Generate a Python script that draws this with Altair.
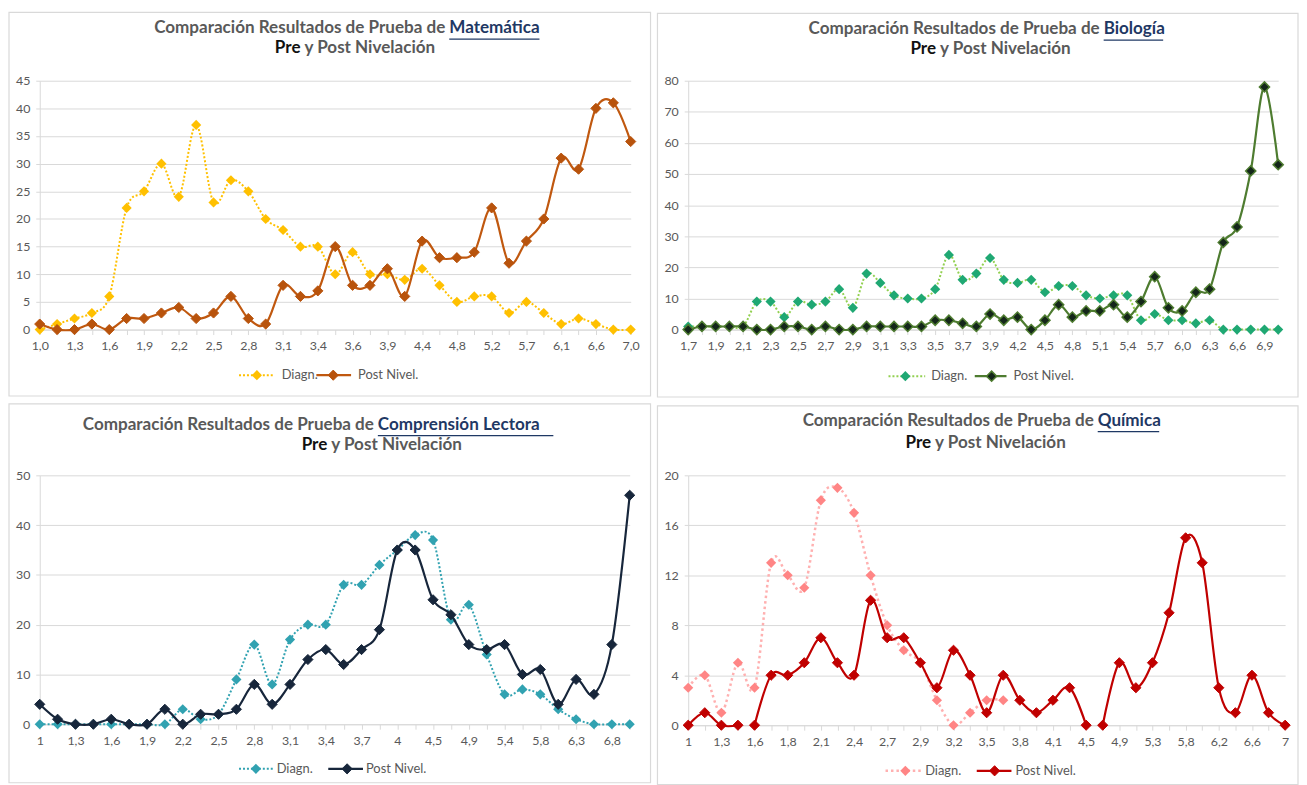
import json
import altair as alt
import pandas as pd

FONT = "Lato"
GRAY = "#595959"
AXC = "#D9D9D9"

# ---------------- data ----------------
mat_cats = ["1,0", "1,1", "1,3", "1,4", "1,6", "1,7", "1,9", "2,0", "2,2", "2,3", "2,5", "2,6",
            "2,8", "3,0", "3,1", "3,3", "3,4", "3,5", "3,6", "3,8", "3,9", "4,1", "4,4", "4,6",
            "4,8", "5,0", "5,2", "5,4", "5,7", "5,9", "6,1", "6,4", "6,6", "6,8", "7,0"]
mat_shown = ["1,0", "1,3", "1,6", "1,9", "2,2", "2,5", "2,8", "3,1", "3,4", "3,6", "3,9", "4,4",
             "4,8", "5,2", "5,7", "6,1", "6,6", "7,0"]
mat_diag = [0, 1, 2, 3, 6, 22, 25, 30, 24, 37, 23, 27, 25, 20, 18, 15, 15, 10, 14, 10, 10, 9, 11,
            8, 5, 6, 6, 3, 5, 3, 1, 2, 1, 0, 0]
mat_post = [1, 0, 0, 1, 0, 2, 2, 3, 4, 2, 3, 6, 2, 1, 8, 6, 7, 15, 8, 8, 11, 6, 16, 13, 13, 14,
            22, 12, 16, 20, 31, 29, 40, 41, 34]

bio_cats = ["1,7", "1,8", "1,9", "2,0", "2,1", "2,2", "2,3", "2,4", "2,5", "2,6", "2,7", "2,8",
            "2,9", "3,0", "3,1", "3,2", "3,3", "3,4", "3,5", "3,6", "3,7", "3,8", "3,9", "4,0",
            "4,2", "4,3", "4,5", "4,6", "4,8", "4,9", "5,1", "5,2", "5,4", "5,5", "5,7", "5,8",
            "6,0", "6,1", "6,3", "6,4", "6,6", "6,7", "6,9", "7,0"]
bio_shown = ["1,7", "1,9", "2,1", "2,3", "2,5", "2,7", "2,9", "3,1", "3,3", "3,5", "3,7", "3,9",
             "4,2", "4,5", "4,8", "5,1", "5,4", "5,7", "6,0", "6,3", "6,6", "6,9"]
bio_diag = [1, 1, 1, 1, 1, 9, 9, 4, 9, 8, 9, 13, 7, 18, 15, 11, 10, 10, 13, 24, 16, 18,
            23, 16, 15, 16, 12, 14, 14, 11, 10, 11, 11, 3, 5, 3, 3, 2, 3, 0, 0, 0, 0, 0]
bio_post = [0, 1, 1, 1, 1, 0, 0, 1, 1, 0, 1, 0, 0, 1, 1, 1, 1, 1, 3, 3, 2, 1,
            5, 3, 4, 0, 3, 8, 4, 6, 6, 8, 4, 9, 17, 7, 6, 12, 13, 28, 33, 51, 78, 53]

com_cats = ["1", "1,1", "1,3", "1,4", "1,6", "1,7", "1,9", "2,0", "2,2", "2,3", "2,5", "2,6",
            "2,8", "2,9", "3,1", "3,2", "3,4", "3,5", "3,7", "3,8", "4", "4,3", "4,5", "4,7",
            "4,9", "5,2", "5,4", "5,6", "5,8", "6,1", "6,3", "6,5", "6,8", "7"]
com_shown = ["1", "1,3", "1,6", "1,9", "2,2", "2,5", "2,8", "3,1", "3,4", "3,7", "4", "4,5",
             "4,9", "5,4", "5,8", "6,3", "6,8"]
com_diag = [0, 0, 0, 0, 0, 0, 0, 0, 3, 1, 2, 9, 16, 8, 17, 20, 20,
            28, 28, 32, 35, 38, 37, 21, 24, 14, 6, 7, 6, 3, 1, 0, 0, 0]
com_post = [4, 1, 0, 0, 1, 0, 0, 3, 0, 2, 2, 3, 8, 4, 8, 13, 15,
            12, 15, 19, 35, 35, 25, 22, 16, 15, 16, 10, 11, 4, 9, 6, 16, 46]

qui_cats = ["1", "1,1", "1,3", "1,4", "1,6", "1,7", "1,8", "2,0", "2,1", "2,2", "2,4", "2,5",
            "2,7", "2,8", "2,9", "3,1", "3,2", "3,4", "3,5", "3,6", "3,8", "4,0", "4,1", "4,3",
            "4,5", "4,7", "4,9", "5,1", "5,3", "5,6", "5,8", "6,0", "6,2", "6,4", "6,6", "6,8", "7"]
qui_shown = ["1", "1,3", "1,6", "1,8", "2,1", "2,4", "2,7", "2,9", "3,2", "3,5", "3,8", "4,1",
             "4,5", "4,9", "5,3", "5,8", "6,2", "6,6", "7"]
qui_diag = [3, 4, 1, 5, 3, 13, 12, 11, 18, 19, 17, 12, 8, 6, 5, 2, 0, 1, 2, 2] + [None] * 17
qui_post = [0, 1, 0, 0, 0, 4, 4, 5, 7, 5, 4, 10, 7, 7, 5, 3, 6, 4, 1, 4, 2, 1, 2, 3, 0,
            0, 5, 3, 5, 9, 15, 13, 3, 1, 4, 1, 0]
qui_breaks = [4, 25]  # the post line is interrupted before these points

series_names = ["Diagn.", "Post Nivel."]
title_lead = "Comparación Resultados de Prueba de"
title_pre = "Pre"
title_rest = "y Post Nivelación"


def one_row():
    return alt.Data(values=[{"k": 1}])


def panel(cats, shown, diag, post, ydom, yvals, sty, g, subject, breaks=()):
    W, H = g["W"], g["H"]
    dd = pd.DataFrame([{"cat": c, "v": v} for c, v in zip(cats, diag) if v is not None])
    rows, seg = [], 0
    for i, (c, v) in enumerate(zip(cats, post)):
        if i in breaks:
            seg += 1
        rows.append({"cat": c, "v": v, "seg": seg})
    dp = pd.DataFrame(rows)

    x = alt.X("cat:O", scale=alt.Scale(type="point", padding=0, domain=cats),
              axis=alt.Axis(title=None, labelAngle=0, grid=False, domainColor=AXC,
                            tickColor=AXC, tickSize=5, labelPadding=5, labelFont=FONT,
                            labelFontSize=12.5, labelColor=GRAY,
                            labelExpr="indexof(%s, datum.value) >= 0 ? datum.label : ''" % json.dumps(shown)))
    y = alt.Y("v:Q", scale=alt.Scale(domain=ydom, nice=False, zero=True),
              axis=alt.Axis(title=None, values=yvals, grid=True, gridColor=AXC, domainColor=AXC,
                            tickColor=AXC, tickSize=4, labelPadding=6, labelFont=FONT,
                            labelFontSize=12.5, labelColor=GRAY))

    border = alt.Chart(one_row()).mark_rect(filled=False, stroke=AXC, strokeWidth=1.2).encode(
        x=alt.value(-g["L"]), x2=alt.value(W + g["R"]),
        y=alt.value(-g["T"]), y2=alt.value(H + g["B"]))

    dline = alt.Chart(dd).mark_line(interpolate="cardinal", strokeDash=sty["dash"],
                                    strokeWidth=sty["dw"], color=sty["dline"]).encode(x=x, y=y)
    dpts = alt.Chart(dd).mark_point(shape="diamond", filled=True, size=105, opacity=1,
                                    color=sty["dpt"]).encode(x=x, y=y)
    pline = alt.Chart(dp).mark_line(interpolate="cardinal", strokeWidth=2.2,
                                    color=sty["pline"]).encode(x=x, y=y, detail="seg:N")
    ppts = alt.Chart(dp).mark_point(shape="diamond", filled=True, size=105, opacity=1,
                                    fill=sty["pfill"], stroke=sty["pstroke"],
                                    strokeWidth=sty["psw"]).encode(x=x, y=y)

    tfont = dict(font=FONT, fontSize=17.2, fontWeight="bold", baseline="middle")
    y1 = g["y1"] - 2
    y2 = g["y2"] - 3
    t1a = alt.Chart(one_row()).mark_text(align="right", color=GRAY, **tfont).encode(
        x=alt.value(g["sx"] - 4), y=alt.value(y1), text=alt.value(title_lead))
    t1b = alt.Chart(one_row()).mark_text(align="left", color="#1F3864", **tfont).encode(
        x=alt.value(g["sx"]), y=alt.value(y1), text=alt.value(subject))
    uline = alt.Chart(one_row()).mark_rule(color="#1F3864", strokeWidth=1.3).encode(
        x=alt.value(g["sx"]), x2=alt.value(g["sx"] + g["uw"]), y=alt.value(y1 + 11))
    t2a = alt.Chart(one_row()).mark_text(align="right", color="#111111", **tfont).encode(
        x=alt.value(g["s2"]), y=alt.value(y2), text=alt.value(title_pre))
    t2b = alt.Chart(one_row()).mark_text(align="left", color=GRAY, **tfont).encode(
        x=alt.value(g["s2"] + 4), y=alt.value(y2), text=alt.value(title_rest))

    ly = g["ly"]
    lfont = dict(font=FONT, fontSize=13, color=GRAY, align="left", baseline="middle")
    leg_dl = alt.Chart(one_row()).mark_rule(strokeDash=sty["dash"], strokeWidth=sty["dw"],
                                            color=sty["dline"]).encode(
        x=alt.value(g["dl"][0]), x2=alt.value(g["dl"][1]), y=alt.value(ly))
    leg_dp = alt.Chart(one_row()).mark_point(shape="diamond", filled=True, size=105, opacity=1,
                                             color=sty["dpt"]).encode(
        x=alt.value(g["dd"]), y=alt.value(ly))
    leg_dt = alt.Chart(one_row()).mark_text(**lfont).encode(
        x=alt.value(g["dt"]), y=alt.value(ly), text=alt.value(series_names[0]))
    leg_pl = alt.Chart(one_row()).mark_rule(strokeWidth=2.2, color=sty["pline"]).encode(
        x=alt.value(g["pl"][0]), x2=alt.value(g["pl"][1]), y=alt.value(ly))
    leg_pp = alt.Chart(one_row()).mark_point(shape="diamond", filled=True, size=105, opacity=1,
                                             fill=sty["pfill"], stroke=sty["pstroke"],
                                             strokeWidth=sty["psw"]).encode(
        x=alt.value(g["pd"]), y=alt.value(ly))
    leg_pt = alt.Chart(one_row()).mark_text(**lfont).encode(
        x=alt.value(g["pt"]), y=alt.value(ly), text=alt.value(series_names[1]))

    return alt.layer(border, dline, dpts, pline, ppts, t1a, t1b, uline, t2a, t2b,
                     leg_dl, leg_dp, leg_dt, leg_pl, leg_pp, leg_pt).properties(width=W, height=H)


sty_mat = dict(dline="#FFC000", dpt="#FFC000", dash=[2, 2], dw=2,
               pline="#C0580F", pfill="#B8530C", pstroke="#B8530C", psw=1)
sty_bio = dict(dline="#92D050", dpt="#1FA873", dash=[2, 2], dw=2,
               pline="#4E7C30", pfill="#14261A", pstroke="#4E7C30", psw=1.5)
sty_com = dict(dline="#31A2B1", dpt="#31A2B1", dash=[2, 2], dw=2,
               pline="#17263B", pfill="#17263B", pstroke="#17263B", psw=1)
sty_qui = dict(dline="#FFB0B0", dpt="#FF8585", dash=[2.5, 3], dw=2.5,
               pline="#C00000", pfill="#C00000", pstroke="#C00000", psw=1)

g1 = dict(W=596, H=251, L=31, R=20, T=69, B=67, sx=413, y1=-51, uw=91, s2=263, y2=-30,
          ly=297, dl=(201, 236), dd=219, dt=244, pl=(279, 314), pd=296, pt=321)
g2 = dict(W=595, H=251, L=31, R=20, T=68, B=68, sx=419, y1=-50, uw=60, s2=250, y2=-29,
          ly=298, dl=(202, 239), dd=219, dt=245, pl=(289, 321), pd=306, pt=328)
g3 = dict(W=595, H=251, L=31, R=21, T=72, B=59, sx=341, y1=-49, uw=177, s2=290, y2=-28,
          ly=296, dl=(201, 236), dd=218, dt=239, pl=(291, 326), pd=310, pt=329)
g4 = dict(W=602, H=252, L=31, R=13, T=70, B=60, sx=413, y1=-53, uw=62, s2=245, y2=-30,
          ly=298, dl=(199, 236), dd=219, dt=239, pl=(291, 326), pd=309, pt=330)

p1 = panel(mat_cats, mat_shown, mat_diag, mat_post, [0, 45], list(range(0, 46, 5)),
           sty_mat, g1, "Matemática")
p2 = panel(bio_cats, bio_shown, bio_diag, bio_post, [0, 80], list(range(0, 81, 10)),
           sty_bio, g2, "Biología")
p3 = panel(com_cats, com_shown, com_diag, com_post, [0, 50], list(range(0, 51, 10)),
           sty_com, g3, "Comprensión Lectora")
p4 = panel(qui_cats, qui_shown, qui_diag, qui_post, [0, 20], list(range(0, 21, 4)),
           sty_qui, g4, "Química", breaks=qui_breaks)

chart = alt.vconcat(
    alt.hconcat(p1, p2, spacing=5),
    alt.hconcat(p3, p4, spacing=5),
    spacing=5,
).properties(padding=0, background="white").configure_view(stroke=None)

chart.save("out.html", embed_options={"renderer": "svg", "actions": False})
